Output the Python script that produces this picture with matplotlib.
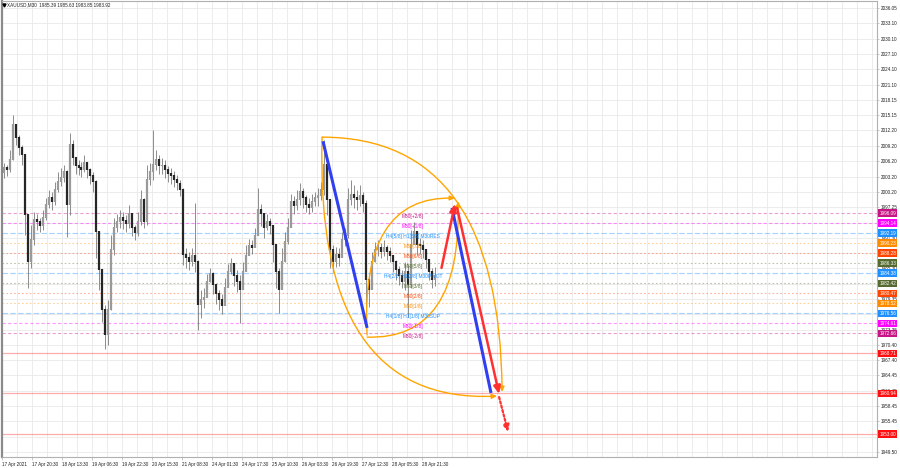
import matplotlib
matplotlib.use("Agg")
import matplotlib.pyplot as plt
import matplotlib.transforms as mtransforms
from matplotlib.patches import FancyArrowPatch, ArrowStyle
from matplotlib.path import Path

plt.rcParams['font.family'] = ['Liberation Sans', 'DejaVu Sans']

title_text = "XAUUSD,M30  1985.39 1985.63 1983.85 1983.92"

# ---- price data (aggregated candles) ----
first_open = 2003.9
close = [2004.9, 2004.5, 2006.4, 2013.3, 2010.7, 2008.8, 2007.4, 1995.7, 1986.5, 1990.8,
         1994.7, 1994.4, 1993.6, 1995.1, 1997.7, 1999.0, 1998.2, 2000.6, 2002.1, 2002.9,
         2004.1, 1997.7, 2009.4, 2006.8, 2005.3, 2004.9, 2004.5, 2005.9, 2004.5, 2003.3,
         2002.1, 1992.4, 1985.0, 1977.2, 1972.3, 1977.2, 1988.9, 1993.2, 1994.4, 1995.1,
         1994.5, 1994.0, 1995.9, 1993.2, 1992.2, 1994.4, 1998.6, 1994.4, 2002.5, 2004.1,
         2005.5, 2006.4, 2005.3, 2005.3, 2004.5, 2003.7, 2003.3, 2002.5, 2001.9, 2000.6,
         1987.9, 1987.3, 1986.5, 1987.7, 1986.5, 1978.2, 1979.1, 1979.5, 1982.6, 1984.2,
         1982.1, 1980.3, 1979.1, 1978.0, 1981.5, 1984.6, 1986.2, 1983.8, 1982.6, 1981.1,
         1984.6, 1987.7, 1989.7, 1989.3, 1991.6, 1996.7, 1995.9, 1993.2, 1994.4, 1993.6,
         1989.9, 1984.6, 1981.1, 1986.5, 1990.5, 1993.2, 1998.2, 1997.5, 1998.6, 2000.2,
         1999.0, 1997.7, 1997.1, 1998.2, 1999.0, 1999.4, 2000.6, 2005.5, 1998.6, 1988.9,
         1986.5, 1987.9, 1987.3, 1990.8, 1991.6, 1998.6, 1999.6, 1999.0, 1998.6, 1999.4,
         1997.9, 1983.0, 1981.1, 1986.5, 1988.9, 1989.3, 1988.5, 1989.3, 1988.5, 1987.7,
         1986.5, 1985.0, 1983.8, 1982.6, 1984.6, 1982.1, 1989.9, 1992.4, 1989.9, 1989.7,
         1988.9, 1986.9, 1984.6, 1983.0, 1983.92]
high = [2005.9, 2005.5, 2008.4, 2015.2, 2013.3, 2011.3, 2009.4, 2007.4, 1995.7, 1993.8,
        1996.3, 1995.9, 1995.1, 1996.7, 1999.0, 2000.6, 2000.2, 2002.1, 2004.1, 2004.9,
        2005.5, 2004.5, 2011.7, 2010.3, 2006.8, 2006.4, 2006.0, 2007.4, 2006.0, 2004.9,
        2004.1, 2002.5, 1989.9, 1983.0, 1978.2, 1979.1, 1991.8, 1995.1, 1995.9, 1996.7,
        1996.3, 1995.7, 1997.7, 1995.1, 1993.8, 1996.3, 2000.6, 1999.0, 2005.5, 2005.9,
        2012.3, 2008.4, 2007.4, 2006.8, 2006.4, 2005.3, 2004.9, 2004.3, 2003.5, 2002.5,
        2001.0, 1989.3, 1988.5, 1989.3, 1998.1, 1986.9, 1981.1, 1981.5, 1984.2, 1985.4,
        1984.6, 1982.3, 1981.1, 1980.3, 1983.4, 1986.2, 1987.3, 1986.2, 1985.0, 1984.0,
        1986.5, 1989.9, 1991.0, 1990.8, 1993.2, 2001.0, 1997.9, 1995.9, 1995.9, 1995.1,
        1993.6, 1988.9, 1985.4, 1989.3, 1992.4, 1995.1, 1999.8, 1999.4, 2000.6, 2001.9,
        2001.0, 1999.6, 1999.0, 1999.8, 2000.2, 2001.0, 2002.1, 2010.3, 2007.4, 1998.6,
        1989.9, 1989.5, 1989.3, 1992.4, 1993.2, 2001.0, 2002.5, 2001.6, 2000.6, 2001.6,
        2000.2, 1998.6, 1984.4, 1988.5, 1990.5, 1990.8, 1990.3, 1990.8, 1989.9, 1989.5,
        1987.9, 1986.9, 1985.8, 1985.0, 1986.5, 1986.0, 1992.8, 1994.4, 1991.8, 1991.2,
        1990.8, 1988.9, 1986.5, 1985.4, 1985.63]
low = [2002.9, 2003.3, 2004.1, 2006.4, 2009.4, 2007.4, 2005.5, 1991.8, 1981.5, 1985.4,
       1989.9, 1992.8, 1992.4, 1992.8, 1994.7, 1997.1, 1996.7, 1997.7, 2000.2, 2001.4,
       2002.1, 1991.4, 1995.7, 2005.5, 2003.7, 2003.5, 2003.1, 2004.1, 2002.9, 2001.8,
       2000.2, 1987.3, 1981.1, 1974.8, 1969.6, 1970.4, 1977.2, 1987.9, 1992.4, 1993.2,
       1993.0, 1992.4, 1993.2, 1991.6, 1990.8, 1991.6, 1993.8, 1993.2, 1993.8, 2001.6,
       2002.5, 2004.5, 2003.7, 2003.7, 2002.9, 2002.1, 2001.8, 2001.2, 2000.6, 1999.4,
       1986.0, 1985.4, 1985.0, 1985.8, 1984.6, 1973.3, 1975.6, 1977.6, 1980.7, 1982.6,
       1980.3, 1978.4, 1977.2, 1976.4, 1979.1, 1982.6, 1984.2, 1981.9, 1980.7, 1974.7,
       1982.1, 1985.4, 1988.1, 1988.1, 1989.7, 1992.4, 1993.6, 1991.2, 1992.8, 1992.0,
       1986.5, 1981.5, 1976.6, 1982.6, 1986.5, 1990.1, 1993.6, 1995.9, 1996.7, 1997.7,
       1997.1, 1996.3, 1995.9, 1996.3, 1997.5, 1997.5, 1998.6, 1999.6, 1995.7, 1985.4,
       1984.6, 1985.6, 1985.8, 1988.9, 1989.7, 1991.2, 1997.7, 1997.1, 1996.7, 1997.5,
       1996.3, 1975.6, 1977.8, 1983.0, 1986.5, 1987.7, 1987.3, 1987.7, 1986.9, 1986.5,
       1984.6, 1983.0, 1982.1, 1981.5, 1981.1, 1975.8, 1981.5, 1990.5, 1987.9, 1988.1,
       1987.3, 1985.4, 1983.0, 1981.5, 1981.9]

date_labels = ["17 Apr 2021", "17 Apr 20:30", "18 Apr 13:30", "19 Apr 06:30", "19 Apr 22:30",
               "20 Apr 15:30", "21 Apr 08:30", "24 Apr 01:30", "24 Apr 17:30", "25 Apr 10:30",
               "26 Apr 03:30", "26 Apr 19:30", "27 Apr 12:30", "28 Apr 05:30", "28 Apr 21:30"]

# price grid values; labels shown on the scale (those covered by level boxes are not shown)
price_ticks = [2036.05, 2033.10, 2030.10, 2027.10, 2024.10, 2021.10, 2018.15, 2015.15, 2012.20,
               2009.20, 2006.20, 2003.20, 2000.20, 1997.25, 1994.25, 1991.30, 1988.30, 1985.30,
               1982.35, 1979.35, 1976.35, 1973.35, 1970.40, 1967.40, 1964.45, 1961.45, 1958.45,
               1955.45, 1952.50, 1949.50]
price_tick_labels = ["2036.05", "2033.10", "2030.10", "2027.10", "2024.10", "2021.10", "2018.15",
                     "2015.15", "2012.20", "2009.20", "2006.20", "2003.20", "2000.20", "1997.25",
                     "", "1991.30", "", "1985.30", "", "1979.35", "", "1973.35", "1970.40",
                     "1967.40", "1964.45", "1961.45", "1958.45", "1955.45", "", "1949.50"]

levels = [1996.09, 1994.14, 1992.19, 1990.23, 1988.28, 1986.33, 1984.38, 1982.42, 1980.47,
          1978.52, 1976.56, 1974.61, 1972.66]
level_names = ["M30[+2/8]", "M30[+1/8]", "H4[5/8] H1[5/8] M30RES", "M30[7/8]", "M30[6/8]",
               "M30[5/8]", "H4[2/8] H1[2/8] M30PIVOT", "M30[3/8]", "M30[2/8]", "M30[1/8]",
               "H4[1/8] H1[1/8] M30SUP", "M30[-1/8]", "M30[-2/8]"]
level_colors = ["#C71585", "#FF00FF", "#1E90FF", "#FF8C00", "#FF4500", "#556B2F", "#1E90FF",
                "#556B2F", "#FF4500", "#FF8C00", "#1E90FF", "#FF00FF", "#C71585"]
red_levels = [1968.71, 1960.94, 1953.00]

# analysis drawings: (bar position, price)
blue_lines = [((106.5, 2010.1), (121.2, 1973.7)),
              ((149.5, 1997.1), (162.5, 1961.0))]
red_arrows = [((146.0, 1985.4), (150.5, 1997.9)),
              ((151.2, 1997.1), (165.2, 1960.8))]
red_dotted_arrow = ((165.2, 1960.2), (168.2, 1953.4))
arcs = [((106.2, 2010.9), (165.5, 2010.9), (166.2, 1961.2)),
        ((106.2, 2010.9), (103.5, 1958.7), (164.5, 1960.4)),
        ((121.2, 1972.3), (118.8, 1999.6), (150.5, 1999.0)),
        ((121.2, 1971.9), (152.8, 1971.3), (151.5, 1998.4))]

# ---- figure ----
W, H = 900, 468
fig = plt.figure(figsize=(W / 100, H / 100), dpi=100)
left_px, right_px, top_px, bot_px = 1.5, 877, 1, 457
ax = fig.add_axes([left_px / W, (H - bot_px) / H, (right_px - left_px) / W, (bot_px - top_px) / H])
ax.set_xlim(-0.667, 291.17)
ax.set_ylim(1948.52, 2037.45)

# grid
for k in range(59):
    ax.axvline(-0.6 + 5 * k, color='#e9e9e9', lw=0.6, zorder=0)
for p in price_ticks:
    ax.axhline(p, color='#e9e9e9', lw=0.6, zorder=0)

# level lines
styles = {"#C71585": (0, (3, 2)), "#FF00FF": (0, (3, 2)), "#1E90FF": (0, (5, 2)),
          "#FF8C00": (0, (1.5, 2)), "#FF4500": (0, (1.5, 2)), "#556B2F": (0, (1.5, 2))}
for lv, col in zip(levels, level_colors):
    ax.axhline(lv, color=col, lw=0.8, alpha=0.4, ls=styles[col], zorder=1)
for lv in red_levels:
    ax.axhline(lv, color='#ff3030', lw=0.9, alpha=0.4, zorder=1)

# candles
n = len(close)
xs = list(range(n))
opens = [first_open] + close[:-1]
ax.vlines(xs, low, high, color='#7a7a7a', lw=0.6, zorder=2)
body_cols = ['#9a9a9a' if c >= o else '#262626' for o, c in zip(opens, close)]
ax.vlines(xs, [min(o, c) for o, c in zip(opens, close)],
          [max(o, c) + 0.15 for o, c in zip(opens, close)], colors=body_cols, lw=1.6, zorder=2)

# level labels
for lv, name, col in zip(levels, level_names, level_colors):
    ax.text(136.5, lv - 0.1, name, color=col, fontsize=3.5, ha='center', va='top', zorder=6)

# orange arcs
for p0, p1, p2 in arcs:
    path = Path([p0, p1, p2], [Path.MOVETO, Path.CURVE3, Path.CURVE3])
    ax.add_patch(FancyArrowPatch(path=path,
                                 arrowstyle=ArrowStyle('-|>', head_length=3.0, head_width=1.4),
                                 color='#FFA500', lw=1.0, mutation_scale=1, zorder=4))

# blue lines
for a, b in blue_lines:
    ax.plot([a[0], b[0]], [a[1], b[1]], color='#3040F0', lw=2.2, solid_capstyle='butt', zorder=5)

# red arrows
for a, b in red_arrows:
    ax.add_patch(FancyArrowPatch(a, b, arrowstyle=ArrowStyle('-|>', head_length=4.5, head_width=2.0),
                                 color='#FF3030', lw=1.8, mutation_scale=1, shrinkA=0, shrinkB=0,
                                 zorder=5))
a, b = red_dotted_arrow
ax.add_patch(FancyArrowPatch(a, b, arrowstyle=ArrowStyle('-|>', head_length=4.0, head_width=1.8),
                             color='#FF3030', lw=1.6, ls=(0, (1, 1)), mutation_scale=1,
                             shrinkA=0, shrinkB=0, zorder=5))

# axes styling
for s in ['top', 'right', 'bottom']:
    ax.spines[s].set_color('#b0b0b0')
    ax.spines[s].set_linewidth(0.8)
ax.spines['left'].set_color('#8a8a8a')
ax.spines['left'].set_linewidth(1.6)

ax.yaxis.tick_right()
ax.set_yticks(price_ticks)
ax.set_yticklabels(price_tick_labels)
ax.tick_params(axis='y', length=1.5, width=0.5, color='#b0b0b0', pad=1.2, labelsize=3.3,
               labelcolor='#202020')
ax.set_xticks([-0.6 + 10 * m for m in range(len(date_labels))])
ax.set_xticklabels(date_labels, ha='left')
ax.tick_params(axis='x', length=2, width=0.5, color='#b0b0b0', pad=1.5, labelsize=3.3,
               labelcolor='#202020')

# right price boxes
trans = mtransforms.blended_transform_factory(ax.transAxes, ax.transData)
box_vals = levels + red_levels
box_cols = level_colors + ['#FF1010'] * 3
for v, col in zip(box_vals, box_cols):
    ax.text(1.0025, v, "%.2f" % v, transform=trans, ha='left', va='center', color='white',
            fontsize=3.3, clip_on=False, zorder=10,
            bbox=dict(boxstyle='square,pad=0.25', fc=col, ec='none'))

# title
ax.plot([0.0025], [0.991], marker='v', ms=2.2, color='black', transform=ax.transAxes,
        clip_on=False, zorder=10)
ax.text(0.0065, 0.991, title_text, transform=ax.transAxes, ha='left', va='center',
        fontsize=3.3, color='#202020', zorder=10)

fig.savefig('out.png', dpi=100, facecolor='white')
